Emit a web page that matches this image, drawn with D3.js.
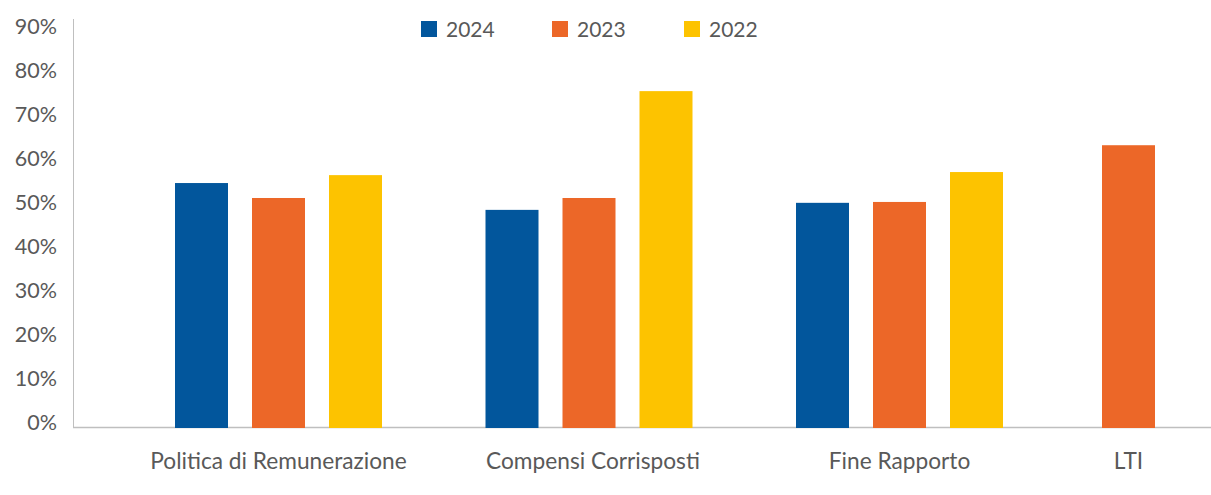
<!DOCTYPE html>
<html><head><meta charset="utf-8">
<script src="https://cdn.jsdelivr.net/npm/d3@7"></script>
<style>body{margin:0;background:#fff}svg{display:block}text{font-family:Lato,"Open Sans",sans-serif;fill:#595959}</style>
</head><body><svg id="c" width="1211" height="495"></svg>
<script>
const categories = ["Politica di Remunerazione", "Compensi Corrisposti", "Fine Rapporto", "LTI"];
const series = ["2024", "2023", "2022"];
const values2024 = [55.7, 49.6, 51.2, null];
const values2023 = [52.3, 52.3, 51.4, 64.3];
const values2022 = [57.5, 76.6, 58.2, null];
const yTicks = [0, 10, 20, 30, 40, 50, 60, 70, 80, 90];
const colors = ["#02569C", "#EC6728", "#FDC300"];

const valuesBySeries = [values2024, values2023, values2022];
const svg = d3.select("#c");
const y = d3.scaleLinear().domain([0, 90]).range([428, 32.2]);
const xIdx = d3.scaleLinear().domain([0, 2, 3]).range([278.5, 899.5, 1128.5]);
const x1 = d3.scaleBand().domain(series).range([-103.5, 103.5]).paddingInner(24/77).paddingOuter(0);
const color = d3.scaleOrdinal().domain(series).range(colors);

// y axis labels
const yAxis = d3.axisLeft(y).tickValues(yTicks).tickFormat(d => d + "%").tickSize(0).tickPadding(0);
const gy = svg.append("g").attr("transform", "translate(57,-5.5)").call(yAxis);
gy.select(".domain").remove();
gy.selectAll("text").style("font-size", "21.5px").attr("fill", "#595959").style("font-family", "Lato, 'Open Sans', sans-serif");

// axis lines
svg.append("line").attr("x1", 73.5).attr("x2", 73.5).attr("y1", 19).attr("y2", 428).attr("stroke", "#BFBFBF").attr("stroke-width", 1);
svg.append("line").attr("x1", 73).attr("x2", 1211).attr("y1", 427.5).attr("y2", 427.5).attr("stroke", "#BFBFBF").attr("stroke-width", 1.5);

// bars
const barData = [];
categories.forEach((c, i) => series.forEach((s, j) => {
  const v = valuesBySeries[j][i];
  if (v != null) barData.push({i, s, v});
}));
svg.append("g").selectAll("rect").data(barData).join("rect")
  .attr("x", d => xIdx(d.i) + x1(d.s))
  .attr("width", x1.bandwidth())
  .attr("y", d => y(d.v))
  .attr("height", d => y(0) - y(d.v))
  .attr("fill", d => color(d.s));

// category labels
svg.append("g").selectAll("text").data(categories).join("text")
  .attr("x", (d, i) => xIdx(i) + (i === 1 ? 4 : 0))
  .attr("y", 468.5)
  .attr("text-anchor", "middle")
  .style("font-size", "22.7px")
  .text(d => d);

// legend
const legendX = [421, 552, 684];
const lg = svg.append("g").selectAll("g").data(series).join("g")
  .attr("transform", (d, i) => `translate(${legendX[i]},21)`);
lg.append("rect").attr("width", 16).attr("height", 16).attr("fill", d => color(d));
lg.append("text").attr("x", 25).attr("y", 15.5).style("font-size", "21px").text(d => d);
</script></body></html>
